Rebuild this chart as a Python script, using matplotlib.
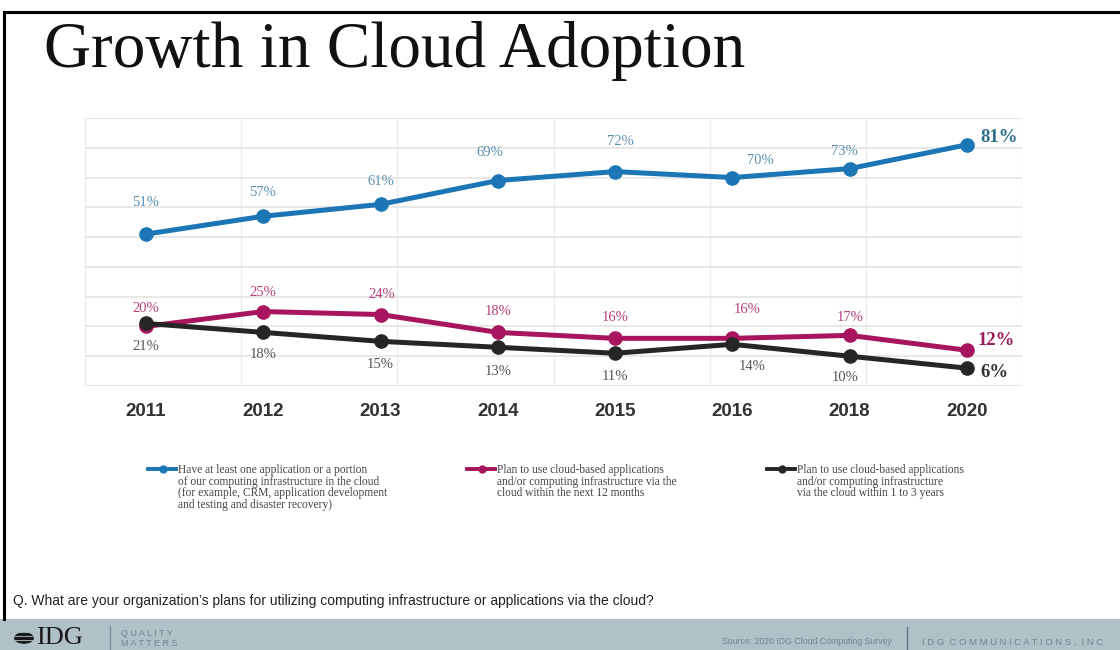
import numpy as np
import matplotlib
matplotlib.use("Agg")
import matplotlib.pyplot as plt
from matplotlib.lines import Line2D
from matplotlib.patches import Rectangle, Circle

# ---------------- data ----------------
years = ["2011", "2012", "2013", "2014", "2015", "2016", "2018", "2020"]
have_cloud = [51, 57, 61, 69, 72, 70, 73, 81]
plan_12_months = [20, 25, 24, 18, 16, 16, 17, 12]
plan_1_to_3_years = [21, 18, 15, 13, 11, 14, 10, 6]

legend_labels = [
    "Have at least one application or a portion\nof our computing infrastructure in the cloud\n(for example, CRM, application development\nand testing and disaster recovery)",
    "Plan to use cloud-based applications\nand/or computing infrastructure via the\ncloud within the next 12 months",
    "Plan to use cloud-based applications\nand/or computing infrastructure\nvia the cloud within 1 to 3 years",
]
title = "Growth in Cloud Adoption"
question = "Q. What are your organization\u2019s plans for utilizing computing infrastructure or applications via the cloud?"
source = "Source: 2020 IDG Cloud Computing Survey"
company = "I D G  C O M M U N I C A T I O N S ,  I N C"

# ---------------- styles ----------------
W, H = 1120, 650
fig = plt.figure(figsize=(W / 100, H / 100), dpi=100)
fig.patch.set_facecolor("white")

def fx(px):
    return px / W

def fy(py):
    return 1 - py / H

BLUE, RED, BLACK = "#1c76b5", "#a8155e", "#262626"
LBL_BLUE, LBL_RED, LBL_BLACK = "#5b8fae", "#b5407e", "#555555"
END_BLUE, END_RED, END_BLACK = "#2e6f8e", "#9c1c5a", "#333333"
SERIF = ["Liberation Serif", "DejaVu Serif"]
SANS = ["Liberation Sans", "DejaVu Sans"]

# label offsets in pixels (dx, dy downwards)
off_blue = [(0, -32), (-1, -24), (0, -23), (-8, -28), (5, -30), (28, -17), (-5, -17)]
off_red = [(0, -18), (0, -19), (1, -20), (0, -21), (0, -21), (15, -29), (1, -18)]
off_black = [(0, 23), (0, 22), (0, 23), (0, 24), (0, 23), (20, 22), (-4, 21)]

# ---------------- axes ----------------
ax_left, ax_right, ax_top, ax_bottom = 85, 1022, 118, 386
ax = fig.add_axes([fx(ax_left), fy(ax_bottom), fx(ax_right - ax_left), (ax_bottom - ax_top) / H])
x = np.arange(len(years))
xmin, xmax = -0.52, 7.47
ax.set_xlim(xmin, xmax)
ax.set_ylim(0, 90)
for s in ax.spines.values():
    s.set_visible(False)
ax.set_yticks(np.arange(0, 91, 10))
ax.set_yticklabels([])
ax.tick_params(axis="y", length=0)
ax.set_xticks(x)
ax.set_xticklabels(years, fontfamily=SANS, fontweight="bold", fontsize=13.5, color="#333333")
ax.tick_params(axis="x", length=0, pad=12)
ax.set_xticks(np.linspace(xmin, xmax, 7), minor=True)
ax.tick_params(axis="x", which="minor", length=0)
ax.grid(axis="y", which="major", color="#e4e4e4", lw=1.2)
ax.grid(axis="x", which="minor", color="#ebebeb", lw=1.0)

series = [
    (have_cloud, BLUE, LBL_BLUE, END_BLUE, off_blue, (13, -7)),
    (plan_12_months, RED, LBL_RED, END_RED, off_red, (11, -10)),
    (plan_1_to_3_years, BLACK, LBL_BLACK, END_BLACK, off_black, (13, 4)),
]
for vals, col, lcol, ecol, offs, eoff in series:
    ax.plot(x, vals, color=col, lw=3.6, marker="o", ms=9.5, zorder=3, solid_capstyle="round")
    for i, v in enumerate(vals[:-1]):
        dx, dy = offs[i]
        ax.annotate(f"{v}%", (x[i], v), xytext=(dx, -dy), textcoords="offset pixels",
                    ha="center", va="center", fontsize=10.5, color=lcol, fontfamily=SERIF,
                    annotation_clip=False)
    ax.annotate(f"{vals[-1]}%", (x[-1], vals[-1]), xytext=(eoff[0], -eoff[1]),
                textcoords="offset pixels", ha="left", va="center", fontsize=13.5,
                fontweight="bold", color=ecol, fontfamily=SERIF, annotation_clip=False)

# ---------------- legend (manual) ----------------
leg_x = [148, 467, 767]
for (vals, col, *_), lx, lab in zip(series, leg_x, legend_labels):
    fig.add_artist(Line2D([fx(lx), fx(lx + 28)], [fy(469), fy(469)], color=col, lw=2.8))
    fig.add_artist(Line2D([fx(lx + 15)], [fy(469)], color=col, marker="o", ms=5, lw=0))
    fig.text(fx(lx + 30), fy(464), lab, ha="left", va="top", fontsize=8.3,
             fontfamily=SERIF, color="#444444", linespacing=0.95)

# ---------------- title, frame, footer ----------------
fig.text(fx(44), fy(67), title, ha="left", va="baseline", fontsize=47,
         fontfamily=SERIF, color="#111111")
fig.add_artist(Line2D([fx(4), fx(1120)], [fy(12), fy(12)], color="black", lw=2.2))
fig.add_artist(Line2D([fx(4), fx(4)], [fy(12), fy(619)], color="black", lw=2.2))

fig.text(fx(13), fy(601), question, ha="left", va="center", fontsize=10,
         fontfamily=SANS, color="#222222")

fig.add_artist(Rectangle((0, 0), 1, fy(619), transform=fig.transFigure,
                         facecolor="#b0c1c8", edgecolor="none"))
# logo globe
fig.add_artist(Circle((fx(24), fy(638)), 10 / W, transform=fig.transFigure,
                      facecolor="#1a1a1a", edgecolor="none"))
for yy in [632, 636, 640, 644]:
    fig.add_artist(Line2D([fx(13), fx(35)], [fy(yy), fy(yy)], color="#b0c1c8", lw=0.6))
fig.text(fx(36), fy(649), "IDG", ha="left", va="bottom", fontsize=19,
         fontfamily=SERIF, color="#1a1a1a")
fig.add_artist(Line2D([fx(110), fx(110)], [fy(626), fy(650)], color="#7f949d", lw=1))
fig.text(fx(121), fy(633), "Q U A L I T Y", ha="left", va="center", fontsize=6.5,
         fontfamily=SANS, color="#6f8690")
fig.text(fx(121), fy(644), "M A T T E R S", ha="left", va="center", fontsize=6.5,
         fontfamily=SANS, color="#6f8690")
fig.text(fx(722), fy(642), source, ha="left", va="center", fontsize=6.3,
         fontfamily=SANS, color="#6f8690")
fig.add_artist(Line2D([fx(907), fx(907)], [fy(627), fy(650)], color="#5f7680", lw=1))
fig.text(fx(922), fy(642), company, ha="left", va="center", fontsize=6.8,
         fontfamily=SANS, color="#6f8690")

fig.savefig("out.png", dpi=100, facecolor="white")
